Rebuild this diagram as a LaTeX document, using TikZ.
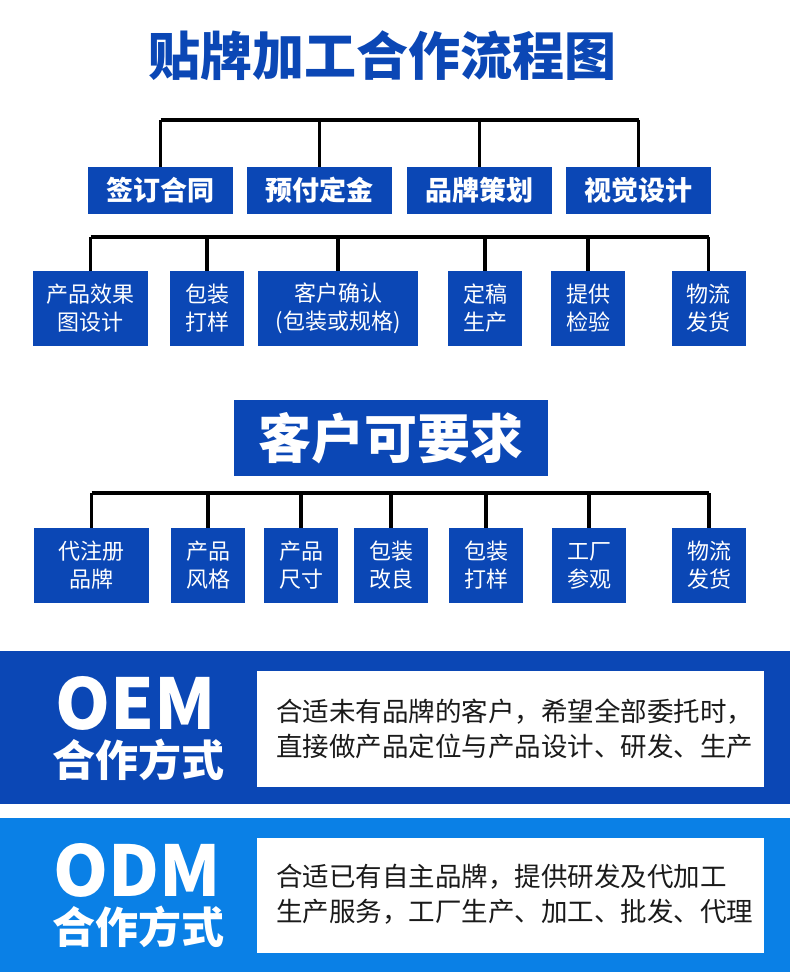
\documentclass[tikz,border=0pt]{standalone}
\usepackage{fontspec}
\setmainfont{Noto Sans CJK SC}
\definecolor{dblue}{HTML}{0B47B5}
\definecolor{lblue}{HTML}{0A80E6}
\definecolor{txt}{HTML}{1A1A1A}
\tikzset{
  bx/.style={fill=dblue, text=white, inner sep=0pt, align=center},
  rowone/.style={bx, minimum width=145pt, minimum height=47pt, font=\bfseries\fontsize{27}{30}\selectfont},
  rowtwo/.style={bx, minimum height=75pt, font=\fontsize{22}{28}\selectfont},
  conn/.style={line width=3.5pt, black, line cap=square},
  big/.style={text=white, inner sep=0pt, font=\bfseries\fontsize{70}{70}\selectfont},
  mode/.style={text=white, inner sep=0pt, font=\bfseries\fontsize{43}{43}\selectfont},
  desc/.style={text=txt, inner sep=0pt, anchor=west, align=left, font=\fontsize{26.5}{35}\selectfont},
}
\begin{document}
\begin{tikzpicture}[x=1pt,y=-1pt]
\useasboundingbox[fill=white] (0,0) rectangle (790,977);
% title
\node[text=dblue, inner sep=0pt, font=\bfseries\fontsize{52}{52}\selectfont] (title) at (382.5,56) {贴牌加工合作流程图};
% row 1
\coordinate (h1) at (0,120);
\node[rowone] (a1) at (160.5,190.5) {签订合同};
\node[rowone] (a2) at (319.5,190.5) {预付定金};
\node[rowone] (a3) at (479.5,190.5) {品牌策划};
\node[rowone] (a4) at (638.5,190.5) {视觉设计};
\draw[conn] (a1.north |- h1) -- (a4.north |- h1);
\foreach \n in {a1,a2,a3,a4} \draw[conn] (\n.north) -- (\n.north |- h1);
% row 2
\coordinate (h2) at (0,237);
\node[rowtwo, minimum width=115pt] (b1) at (90.5,308.5) {产品效果\\图设计};
\node[rowtwo, minimum width=74pt] (b2) at (207,308.5) {包装\\打样};
\node[rowtwo, minimum width=160pt] (b3) at (338,308.5) {客户确认\\(包装或规格)};
\node[rowtwo, minimum width=74pt] (b4) at (485,308.5) {定稿\\生产};
\node[rowtwo, minimum width=74pt] (b5) at (588,308.5) {提供\\检验};
\node[rowtwo, minimum width=74pt] (b6) at (708.5,308.5) {物流\\发货};
\draw[conn] (b1.north |- h2) -- (b6.north |- h2);
\foreach \n in {b1,b2,b3,b4,b5,b6} \draw[conn] (\n.north) -- (\n.north |- h2);
% customer requirements
\node[bx, minimum width=314pt, minimum height=76pt, font=\bfseries\fontsize{53}{53}\selectfont] (req) at (391,438) {客户可要求};
\coordinate (h3) at (0,493);
\node[rowtwo, minimum width=115pt] (c1) at (91.5,565.5) {代注册\\品牌};
\node[rowtwo, minimum width=74pt] (c2) at (208,565.5) {产品\\风格};
\node[rowtwo, minimum width=74pt] (c3) at (301,565.5) {产品\\尺寸};
\node[rowtwo, minimum width=74pt] (c4) at (391,565.5) {包装\\改良};
\node[rowtwo, minimum width=74pt] (c5) at (486,565.5) {包装\\打样};
\node[rowtwo, minimum width=74pt] (c6) at (589,565.5) {工厂\\参观};
\node[rowtwo, minimum width=74pt] (c7) at (709,565.5) {物流\\发货};
\draw[conn] (c1.north |- h3) -- (c7.north |- h3);
\foreach \n in {c1,c2,c3,c4,c5,c6,c7} \draw[conn] (\n.north) -- (\n.north |- h3);
% OEM band
\fill[dblue] (0,651) rectangle (790,804);
\fill[white] (257,671) rectangle (764,787);
\node[big] (oem) at (136,703) {OEM};
\node[mode] (oemm) at (138,760) {合作方式};
\node[desc] (oemt) at (276,728.5) {合适未有品牌的客户，希望全部委托时，\\直接做产品定位与产品设计、研发、生产};
% ODM band
\fill[lblue] (0,818) rectangle (790,972);
\fill[white] (257,838) rectangle (764,953);
\node[big] (odm) at (137,870) {ODM};
\node[mode] (odmm) at (138,927) {合作方式};
\node[desc] (odmt) at (276,894.5) {合适已有自主品牌，提供研发及代加工\\生产服务，工厂生产、加工、批发、代理};
\end{tikzpicture}
\end{document}
